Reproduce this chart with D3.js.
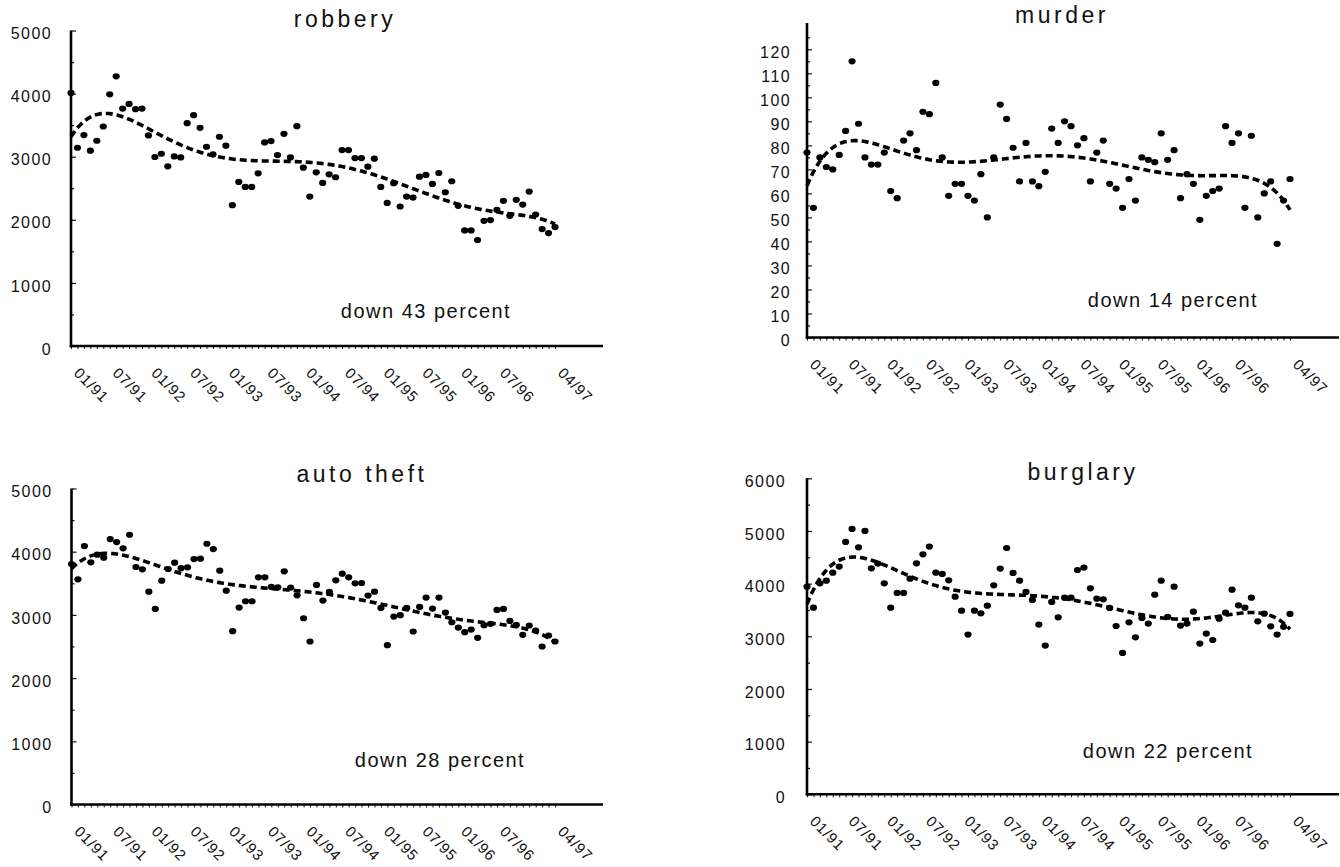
<!DOCTYPE html>
<html>
<head>
<meta charset="utf-8">
<script src="https://cdn.jsdelivr.net/npm/d3@7"></script>
<style>
  html, body { margin: 0; padding: 0; background: #fff; }
  svg { display: block; }
  text { font-family: "Liberation Sans", Arial, Helvetica, sans-serif; fill: #111; }
</style>
</head>
<body>
<svg id="chart" width="1340" height="867"></svg>
<script>
// Monthly counts, January 1991 through April 1997 (76 months)
const robbery = [4010, 3142, 3342, 3095, 3253, 3479, 3989, 4274, 3763, 3837, 3753, 3763,
  3337, 2995, 3047, 2847, 3005, 2989, 3532, 3658, 3458, 3158, 3037, 3316,
  3174, 2232, 2600, 2521, 2521, 2737, 3226, 3247, 3026, 3363, 2989, 3484,
  2826, 2368, 2753, 2584, 2721, 2674, 3105, 3105, 2979, 2979, 2842, 2968,
  2521, 2268, 2580, 2211, 2368, 2353, 2684, 2711, 2568, 2742, 2437, 2611,
  2221, 1832, 1832, 1679, 1984, 1995, 2158, 2300, 2063, 2316, 2242, 2447,
  2084, 1853, 1789, 1884];

const murder = [77, 54, 75, 71, 70, 76, 86, 115, 89, 75, 72, 72,
  77, 61, 58, 82, 85, 78, 94, 93, 106, 75, 59, 64,
  64, 59, 57, 68, 50, 75, 97, 91, 79, 65, 81, 65,
  63, 69, 87, 81, 90, 88, 80, 83, 65, 77, 82, 64,
  62, 54, 66, 57, 75, 74, 73, 85, 74, 78, 58, 68,
  64, 49, 59, 61, 62, 88, 81, 85, 54, 84, 50, 60,
  65, 39, 57, 66];

const autoTheft = [3805, 3563, 4089, 3832, 3953, 3905, 4200, 4153, 4053, 4268, 3758, 3721,
  3368, 3095, 3542, 3726, 3826, 3740, 3753, 3884, 3889, 4126, 4042, 3700,
  3384, 2742, 3116, 3216, 3216, 3595, 3595, 3442, 3437, 3689, 3432, 3310,
  2947, 2579, 3474, 3226, 3363, 3547, 3653, 3595, 3500, 3505, 3305, 3368,
  3110, 2521, 2974, 2995, 3110, 2737, 3126, 3274, 3100, 3274, 3037, 2884,
  2800, 2726, 2768, 2637, 2837, 2858, 3079, 3095, 2905, 2842, 2684, 2832,
  2753, 2500, 2674, 2579];

const burglary = [3943, 3544, 4006, 4057, 4209, 4323, 4791, 5038, 4690, 5000, 4291, 4380,
  4006, 3544, 3823, 3823, 4095, 4386, 4557, 4703, 4209, 4184, 4063, 3753,
  3487, 3032, 3487, 3437, 3582, 3968, 4285, 4677, 4203, 4057, 3842, 3690,
  3222, 2823, 3652, 3361, 3734, 3734, 4259, 4304, 3911, 3715, 3703, 3538,
  3196, 2684, 3266, 2981, 3348, 3241, 3791, 4057, 3367, 3943, 3203, 3241,
  3468, 2861, 3051, 2930, 3335, 3449, 3886, 3589, 3544, 3734, 3285, 3430,
  3190, 3032, 3180, 3424];

// Month positions that carry a date label, and the labels themselves
const tickMonths = [0, 6, 12, 18, 24, 30, 36, 42, 48, 54, 60, 66, 75];
const tickLabels = ["01/91", "07/91", "01/92", "07/92", "01/93", "07/93", "01/94",
  "07/94", "01/95", "07/95", "01/96", "07/96", "04/97"];

const titles = ["robbery", "murder", "auto theft", "burglary"];
const notes = ["down 43 percent", "down 14 percent", "down 28 percent", "down 22 percent"];

// Panel geometry and axis settings
const panels = [
  { title: titles[0], note: notes[0], values: robbery, yMax: 5000, yStep: 1000, axisTop: 5000,
    left: 71, right: 555, axisEnd: 603, bottom: 346, top: 30.5,
    labelGap: 19, titleX: 345, titleY: 27, noteX: 426, noteY: 318 },
  { title: titles[1], note: notes[1], values: murder, yMax: 120, yStep: 10, axisTop: 131,
    left: 807, right: 1290, axisEnd: 1339, bottom: 337.5, top: 49.3,
    labelGap: 16, titleX: 1062, titleY: 23, noteX: 1173, noteY: 307 },
  { title: titles[2], note: notes[2], values: autoTheft, yMax: 5000, yStep: 1000, axisTop: 5000,
    left: 71.5, right: 555, axisEnd: 603, bottom: 804.5, top: 488.5,
    labelGap: 19, titleX: 362, titleY: 482, noteX: 440, noteY: 767 },
  { title: titles[3], note: notes[3], values: burglary, yMax: 6000, yStep: 1000, axisTop: 6000,
    left: 807, right: 1290, axisEnd: 1339, bottom: 794.3, top: 478.3,
    labelGap: 21, titleX: 1083, titleY: 480, noteX: 1168, noteY: 758 }
];

// Least-squares polynomial trend (order 6), evaluated on a fine grid
function polyTrend(values, order) {
  const n = values.length, c = (n - 1) / 2;
  const t = values.map((_, i) => (i - c) / c);
  const m = order + 1;
  const A = Array.from({ length: m }, () => new Array(m + 1).fill(0));
  for (let k = 0; k < n; k++) {
    const pw = [];
    for (let j = 0; j < 2 * m; j++) pw.push(Math.pow(t[k], j));
    for (let r = 0; r < m; r++) {
      for (let s = 0; s < m; s++) A[r][s] += pw[r + s];
      A[r][m] += pw[r] * values[k];
    }
  }
  for (let col = 0; col < m; col++) {
    let piv = col;
    for (let r = col + 1; r < m; r++) if (Math.abs(A[r][col]) > Math.abs(A[piv][col])) piv = r;
    [A[col], A[piv]] = [A[piv], A[col]];
    for (let r = 0; r < m; r++) {
      if (r === col) continue;
      const f = A[r][col] / A[col][col];
      for (let s = col; s <= m; s++) A[r][s] -= f * A[col][s];
    }
  }
  const coef = A.map((row, r) => row[m] / row[r]);
  return x => {
    const u = (x - c) / c;
    let y = 0;
    for (let j = m - 1; j >= 0; j--) y = y * u + coef[j];
    return y;
  };
}

const svg = d3.select("#chart");

panels.forEach(p => {
  const n = p.values.length;
  const x = d3.scaleLinear().domain([0, n - 1]).range([p.left, p.right]);
  const y = d3.scaleLinear().domain([0, p.yMax]).range([p.bottom, p.top]);
  const g = svg.append("g");

  // y axis: labelled major ticks plus half-step minor ticks, all pointing inward
  const yAxis = d3.axisRight(y)
    .tickValues(d3.range(0, p.yMax + p.yStep / 2, p.yStep))
    .tickSize(5).tickFormat("");
  const ya = g.append("g").attr("transform", `translate(${p.left},0)`).call(yAxis);
  ya.select(".domain").remove();
  ya.selectAll("line").attr("stroke", "#111").attr("stroke-width", 1.2);

  const yMinor = d3.axisRight(y)
    .tickValues(d3.range(p.yStep / 2, p.axisTop, p.yStep))
    .tickSize(3).tickFormat("");
  const ym = g.append("g").attr("transform", `translate(${p.left},0)`).call(yMinor);
  ym.select(".domain").remove();
  ym.selectAll("line").attr("stroke", "#111").attr("stroke-width", 1.2);

  g.append("g").selectAll("text")
    .data(d3.range(0, p.yMax + p.yStep / 2, p.yStep))
    .join("text")
    .attr("x", p.left - p.labelGap)
    .attr("y", d => y(d) + 3)
    .attr("dy", "0.35em")
    .attr("text-anchor", "end")
    .style("font-size", "16px")
    .style("letter-spacing", "1.4px")
    .text(d => d);

  // x axis: one small tick per month
  const xAxis = d3.axisBottom(x).tickValues(d3.range(0, n)).tickSize(3).tickFormat("");
  const xa = g.append("g").attr("transform", `translate(0,${p.bottom})`).call(xAxis);
  xa.select(".domain").remove();
  xa.selectAll("line").attr("stroke", "#111").attr("stroke-width", 1);

  // axis lines
  g.append("line")
    .attr("x1", p.left).attr("x2", p.left)
    .attr("y1", y(p.axisTop)).attr("y2", p.bottom + 1.2)
    .attr("stroke", "#000").attr("stroke-width", 2.6);
  g.append("line")
    .attr("x1", p.left - 1.3).attr("x2", p.axisEnd)
    .attr("y1", p.bottom).attr("y2", p.bottom)
    .attr("stroke", "#000").attr("stroke-width", 2.6);

  // rotated date labels
  g.append("g").selectAll("text")
    .data(tickMonths)
    .join("text")
    .attr("transform", d => `translate(${x(d) + 2},${p.bottom + 28}) rotate(45)`)
    .style("font-size", "15px")
    .style("letter-spacing", "0.8px")
    .text((d, i) => tickLabels[i]);

  // trend line
  const f = polyTrend(p.values, 6);
  const grid = d3.range(0, n - 1 + 0.001, 0.25);
  g.append("path")
    .datum(grid)
    .attr("d", d3.line().x(d => x(d)).y(d => y(f(d))))
    .attr("fill", "none")
    .attr("stroke", "#000")
    .attr("stroke-width", 3.6)
    .attr("stroke-dasharray", "7,4");

  // monthly points
  g.append("g").selectAll("ellipse")
    .data(p.values)
    .join("ellipse")
    .attr("cx", (d, i) => x(i))
    .attr("cy", d => y(d))
    .attr("rx", 3.6)
    .attr("ry", 3.1)
    .attr("fill", "#000");

  // title and change note
  g.append("text")
    .attr("x", p.titleX).attr("y", p.titleY)
    .attr("text-anchor", "middle")
    .style("font-size", "23px")
    .style("letter-spacing", "3.5px")
    .text(p.title);

  g.append("text")
    .attr("x", p.noteX).attr("y", p.noteY)
    .attr("text-anchor", "middle")
    .style("font-size", "20px")
    .style("letter-spacing", "1.5px")
    .text(p.note);
});
</script>
</body>
</html>
